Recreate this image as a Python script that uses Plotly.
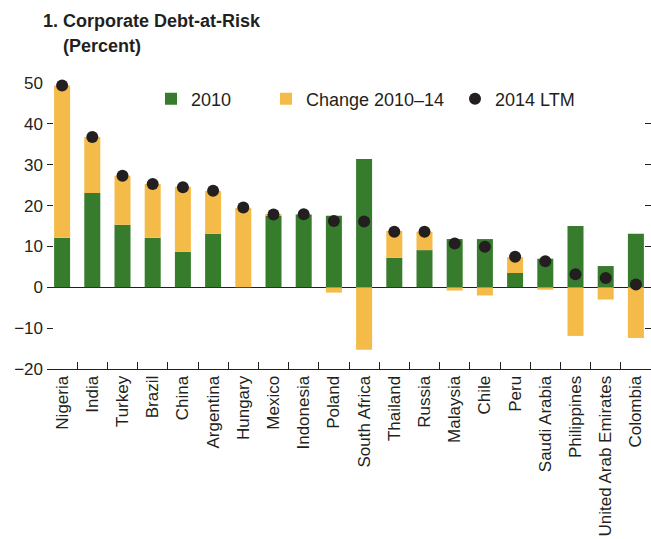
import plotly.graph_objects as go

categories = ["Nigeria", "India", "Turkey", "Brazil", "China", "Argentina", "Hungary",
              "Mexico", "Indonesia", "Poland", "South Africa", "Thailand", "Russia",
              "Malaysia", "Chile", "Peru", "Saudi Arabia", "Philippines",
              "United Arab Emirates", "Colombia"]
values_2010 = [12.1, 23.1, 15.3, 12.1, 8.7, 13.1, 0.0, 17.5, 17.8, 17.5, 31.4, 7.2, 9.1,
               11.8, 11.8, 3.5, 7.0, 15.0, 5.2, 13.1]
change_2010_14 = [37.3, 13.7, 12.0, 13.2, 15.9, 10.5, 19.4, 0.3, 0.0, -1.3, -15.3, 6.6, 4.5,
                  -0.8, -2.0, 3.9, -0.6, -11.9, -3.0, -12.4]
ltm_2014 = [49.4, 36.8, 27.3, 25.3, 24.5, 23.6, 19.5, 17.8, 17.9, 16.2, 16.1, 13.6, 13.6,
            10.7, 9.9, 7.5, 6.4, 3.2, 2.3, 0.7]
y_ticks = [-20, -10, 0, 10, 20, 30, 40, 50]

GREEN = "#377b2c"
YELLOW = "#f5bb48"
DARK = "#231f20"
FONT = "Liberation Sans, Arial, sans-serif"

W, H = 651, 539
L, R, T, B = 47, 0, 83, 170
PW, PH = W - L - R, H - T - B


def px_x(px):
    return (px - L) / PW


def px_y(py):
    return (H - B - py) / PH


fig = go.Figure()
fig.add_trace(go.Bar(x=categories, y=values_2010, name="2010", marker_color=GREEN,
                     marker_line_width=0, legend="legend"))
fig.add_trace(go.Bar(x=categories, y=change_2010_14, name="Change 2010–14",
                     marker_color=YELLOW, marker_line_width=0, legend="legend2"))
fig.add_trace(go.Scatter(x=categories, y=ltm_2014, name="2014 LTM", mode="markers",
                         marker=dict(color=DARK, size=12), cliponaxis=False,
                         legend="legend3"))

leg_common = dict(orientation="h", yanchor="middle", xanchor="left",
                  bgcolor="rgba(0,0,0,0)", borderwidth=0,
                  font=dict(family=FONT, size=18, color=DARK))

fig.update_layout(
    width=W, height=H,
    margin=dict(l=L, r=R, t=T, b=B, pad=0),
    paper_bgcolor="white", plot_bgcolor="white",
    barmode="relative", bargap=0.47,
    showlegend=True,
    font=dict(family=FONT, size=17, color=DARK),
    legend=dict(x=px_x(151), y=px_y(99), **leg_common),
    legend2=dict(x=px_x(266), y=px_y(99), **leg_common),
    legend3=dict(x=px_x(455), y=px_y(99), **leg_common),
    xaxis=dict(type="category", range=[-0.5, len(categories) - 0.5],
               tickson="boundaries", ticks="inside", ticklen=7,
               tickcolor=DARK, showline=True, linecolor=DARK, linewidth=1,
               tickangle=-90, showgrid=False, zeroline=False,
               ticklabelstandoff=-1,
               tickfont=dict(family=FONT, size=17, color=DARK)),
    yaxis=dict(range=[-20, 50], tickvals=y_ticks, ticks="inside", ticklen=6,
               tickcolor=DARK, showline=False, mirror="ticks", showgrid=False,
               zeroline=True, zerolinecolor=DARK, zerolinewidth=1,
               layer="above traces", ticklabelstandoff=3,
               tickfont=dict(family=FONT, size=17, color=DARK)),
    annotations=[
        dict(text="<b>1. Corporate Debt-at-Risk</b>", xref="paper", yref="paper",
             x=px_x(41), y=px_y(21), xanchor="left", yanchor="middle", showarrow=False,
             font=dict(family=FONT, size=18, color=DARK)),
        dict(text="<b>(Percent)</b>", xref="paper", yref="paper",
             x=px_x(61), y=px_y(46), xanchor="left", yanchor="middle", showarrow=False,
             font=dict(family=FONT, size=18, color=DARK)),
    ],
)

fig.write_html("out.html", config={"displayModeBar": False},
               post_script="document.body.style.margin='0';")
